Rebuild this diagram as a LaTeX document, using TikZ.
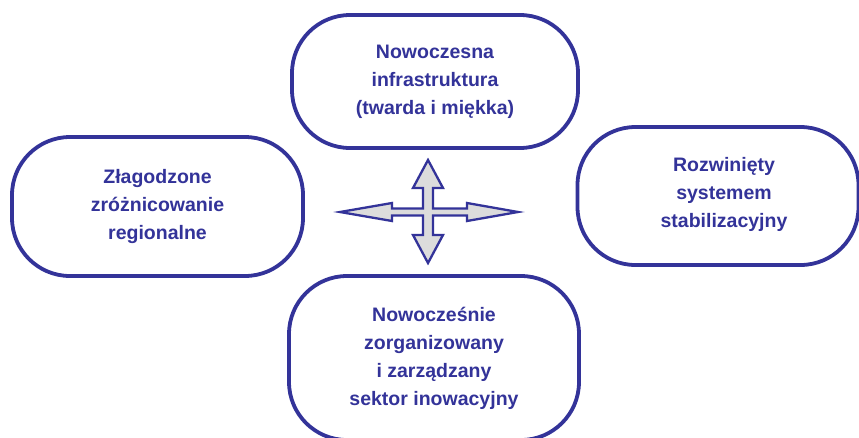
\documentclass[tikz,border=0pt]{standalone}
\usepackage{fontspec}
\setmainfont{Liberation Sans}
\definecolor{navy}{HTML}{333399}
\definecolor{crossfill}{HTML}{DCDCDC}
\begin{document}
\begin{tikzpicture}[x=1pt,y=-1pt,
  goalbox/.style={draw=navy, line width=3.8pt, rounded corners=58pt, fill=white,
    text=navy, font=\fontsize{19.5}{28}\selectfont\bfseries, align=center, inner sep=0pt},
  crossarrow/.style={draw=navy, line width=2.3pt, fill=crossfill, line join=miter}]
\clip (0,0) rectangle (859,437);
\fill[white] (0,0) rectangle (859,437);
\node[goalbox, minimum width=286pt, minimum height=133pt] (top) at (435,81.5) {Nowoczesna\\infrastruktura\\(twarda i miękka)};
\node[goalbox, minimum width=291pt, minimum height=139pt] (left) at (157.5,206.5) {Złagodzone\\zróżnicowanie\\regionalne};
\node[goalbox, minimum width=281pt, minimum height=138pt] (right) at (718,196) {};
\node[text=navy, font=\fontsize{19.5}{28}\selectfont\bfseries, align=center] (righttext) at (724,194) {Rozwinięty\\systemem\\stabilizacyjny};
\node[goalbox, minimum width=290pt, minimum height=164pt] (bottom) at (434,358) {Nowocześnie\\zorganizowany\\i zarządzany\\sektor inowacyjny};
\coordinate (c) at (428,212);
\draw[crossarrow] (340,212) -- (392,203) -- (392,208.5) -- (423,208.5) -- (423,188) -- (413,188)
  -- (428,160) -- (443,188) -- (433,188) -- (433,208.5) -- (467,208.5) -- (467,203)
  -- (518,212) -- (467,221) -- (467,215.5) -- (433,215.5) -- (433,235) -- (443,235)
  -- (428,263) -- (413,235) -- (423,235) -- (423,215.5) -- (392,215.5) -- (392,221) -- cycle;
\end{tikzpicture}
\end{document}
